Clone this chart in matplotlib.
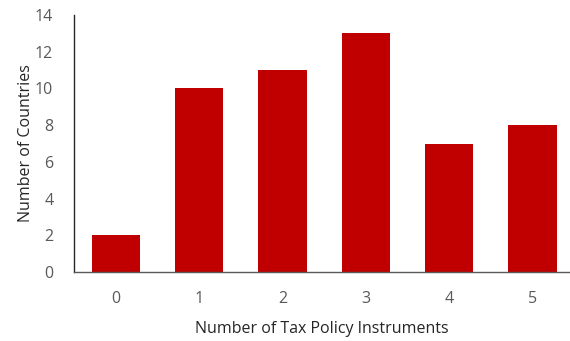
import matplotlib
matplotlib.use("Agg")
import matplotlib.pyplot as plt

categories = ["0", "1", "2", "3", "4", "5"]
counts = [2, 10, 11, 13, 7, 8]
y_ticks = [0, 2, 4, 6, 8, 10, 12, 14]

plt.rcParams['font.family'] = ['Open Sans', 'DejaVu Sans']

fig = plt.figure(figsize=(5.70, 3.41), dpi=100)
ax = fig.add_axes([0.130, 0.2023, 0.870, 0.7537])

x = range(len(categories))
ax.bar(x, counts, width=0.58, color="#C00000", edgecolor="none")

ax.set_xlim(-0.5, 5.45)
ax.set_ylim(0, 14)
ax.set_yticks(y_ticks)
ax.set_xticks(list(x))
ax.set_xticklabels(categories)

for s in ["top", "right"]:
    ax.spines[s].set_visible(False)
ax.spines["left"].set_color("#262626")
ax.spines["left"].set_linewidth(1.0)
ax.spines["bottom"].set_color("#595959")
ax.spines["bottom"].set_linewidth(1.0)

ax.tick_params(axis="both", length=0, labelsize=11.5, colors="#595959")
ax.tick_params(axis="y", pad=15)
ax.tick_params(axis="x", pad=14)

ax.set_ylabel("Number of Countries", fontsize=11.5, color="#262626", labelpad=1)
ax.set_xlabel("Number of Tax Policy Instruments", fontsize=11.5, color="#262626", labelpad=10)

fig.savefig("out.png", dpi=100)
